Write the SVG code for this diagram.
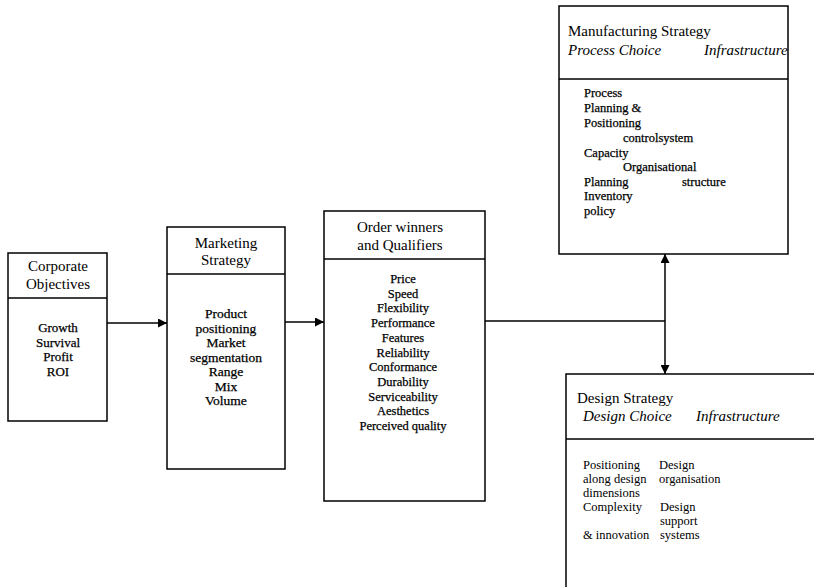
<svg xmlns="http://www.w3.org/2000/svg" width="814" height="587" viewBox="0 0 814 587">
<style>
.box{fill:#fff;stroke:#000;stroke-width:1.5}
.div{stroke:#000;stroke-width:1.5}
.conn{stroke:#000;stroke-width:1.5;fill:none}
text{font-family:"Liberation Serif","Times New Roman",serif;fill:#000}
.h{font-size:15px}
.hi{font-size:15px;font-style:italic}
.b{font-size:12.5px;stroke:#000;stroke-width:0.25}
.m{text-anchor:middle}
</style>
<defs>
<marker id="ah" viewBox="0 0 10 10" refX="10" refY="5" markerWidth="10" markerHeight="9" markerUnits="userSpaceOnUse" orient="auto">
<path d="M0,0 L10,5 L0,10 Z" fill="#000"/>
</marker>
</defs>
<rect width="814" height="587" fill="#fff"/>

<g id="corporate">
<rect class="box" x="8" y="253" width="99" height="168"/>
<line class="div" x1="8" y1="298" x2="107" y2="298"/>
<text class="h m" x="58" y="271">Corporate</text>
<text class="h m" x="58" y="289">Objectives</text>
<text class="b m" x="58" y="332" style="font-size:13px">Growth</text>
<text class="b m" x="58" y="346.5" style="font-size:13px">Survival</text>
<text class="b m" x="58" y="361" style="font-size:13px">Profit</text>
<text class="b m" x="58" y="375.5" style="font-size:13px">ROI</text>
</g>

<g id="marketing">
<rect class="box" x="167" y="227" width="118" height="242"/>
<line class="div" x1="167" y1="274" x2="285" y2="274"/>
<text class="h m" x="226" y="248">Marketing</text>
<text class="h m" x="226" y="265">Strategy</text>
<text class="b m" x="226" y="318" style="font-size:13.5px">Product</text>
<text class="b m" x="226" y="332.5" style="font-size:13.5px">positioning</text>
<text class="b m" x="226" y="347" style="font-size:13.5px">Market</text>
<text class="b m" x="226" y="361.5" style="font-size:13.5px">segmentation</text>
<text class="b m" x="226" y="376" style="font-size:13.5px">Range</text>
<text class="b m" x="226" y="390.5" style="font-size:13.5px">Mix</text>
<text class="b m" x="226" y="405" style="font-size:13.5px">Volume</text>
</g>

<g id="orderwinners">
<rect class="box" x="324" y="211" width="161" height="290"/>
<line class="div" x1="324" y1="259" x2="485" y2="259"/>
<text class="h m" x="400" y="232">Order winners</text>
<text class="h m" x="400" y="250">and Qualifiers</text>
<text class="b m" x="403" y="283">Price</text>
<text class="b m" x="403" y="297.7">Speed</text>
<text class="b m" x="403" y="312.4">Flexibility</text>
<text class="b m" x="403" y="327.1">Performance</text>
<text class="b m" x="403" y="341.8">Features</text>
<text class="b m" x="403" y="356.5">Reliability</text>
<text class="b m" x="403" y="371.2">Conformance</text>
<text class="b m" x="403" y="385.9">Durability</text>
<text class="b m" x="403" y="400.6">Serviceability</text>
<text class="b m" x="403" y="415.3">Aesthetics</text>
<text class="b m" x="403" y="430">Perceived quality</text>
</g>

<g id="manufacturing">
<rect class="box" x="559" y="6" width="229" height="248"/>
<line class="div" x1="559" y1="79" x2="788" y2="79"/>
<text class="h" x="568" y="36">Manufacturing Strategy</text>
<text class="hi" x="568" y="55">Process Choice</text>
<text class="hi" x="704" y="55">Infrastructure</text>
<text class="b" x="584" y="97">Process</text>
<text class="b" x="584" y="112">Planning &amp;</text>
<text class="b" x="584" y="127">Positioning</text>
<text class="b" x="623" y="142">controlsystem</text>
<text class="b" x="584" y="157">Capacity</text>
<text class="b" x="623" y="171">Organisational</text>
<text class="b" x="584" y="186">Planning</text>
<text class="b" x="682" y="186">structure</text>
<text class="b" x="584" y="200">Inventory</text>
<text class="b" x="584" y="215">policy</text>
</g>

<g id="design">
<rect class="box" x="566" y="374" width="270" height="230"/>
<line class="div" x1="566" y1="439" x2="814" y2="439"/>
<text class="h" x="577" y="403">Design Strategy</text>
<text class="hi" x="583" y="421">Design Choice</text>
<text class="hi" x="696" y="421">Infrastructure</text>
<text x="583" y="469" style="font-size:12.5px">Positioning</text>
<text x="583" y="483" style="font-size:12.5px">along design</text>
<text x="583" y="497" style="font-size:12.5px">dimensions</text>
<text x="583" y="511" style="font-size:12.5px">Complexity</text>
<text x="583" y="539" style="font-size:12.5px">&amp; innovation</text>
<text x="659" y="469" style="font-size:12.5px">Design</text>
<text x="659" y="483" style="font-size:12.5px">organisation</text>
<text x="660" y="511" style="font-size:12.5px">Design</text>
<text x="660" y="525" style="font-size:12.5px">support</text>
<text x="660" y="539" style="font-size:12.5px">systems</text>
</g>

<g id="connectors">
<line class="conn" x1="107" y1="323" x2="167" y2="323" marker-end="url(#ah)"/>
<line class="conn" x1="285" y1="322" x2="324" y2="322" marker-end="url(#ah)"/>
<line class="conn" x1="485" y1="321" x2="665" y2="321"/>
<line class="conn" x1="665" y1="321" x2="665" y2="254" marker-end="url(#ah)"/>
<line class="conn" x1="665" y1="321" x2="665" y2="374" marker-end="url(#ah)"/>
</g>
</svg>
